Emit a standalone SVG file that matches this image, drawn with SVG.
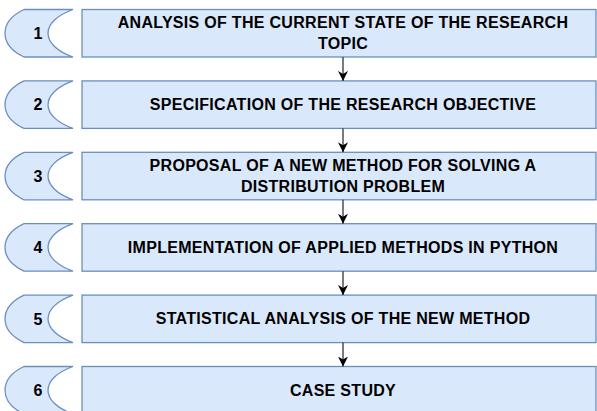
<svg xmlns="http://www.w3.org/2000/svg" width="597" height="411" viewBox="0 0 597 411">
  <style>
    .step { fill: #dae8fc; stroke: #6c8ebf; stroke-width: 1.3; }
    .num { font-family: "Liberation Sans", Arial, sans-serif; font-weight: bold; font-size: 16px; fill: #000; text-anchor: middle; dominant-baseline: central; }
    .lbl { font-family: "Liberation Sans", Arial, sans-serif; font-weight: bold; font-size: 16px; letter-spacing: 0.3px; fill: #000; text-anchor: middle; dominant-baseline: central; }
    .link { stroke: #333; stroke-width: 1.3; fill: none; marker-end: url(#arrow); }
  </style>
  <defs>
    <marker id="arrow" markerUnits="userSpaceOnUse" markerWidth="10" markerHeight="10" refX="10" refY="5" orient="auto">
      <path d="M0,0 L10,5 L0,10 L3,5 Z" fill="#000"/>
    </marker>
    <!-- tab shape: bowed left side, concave notch on the right -->
    <path id="tab" d="M24,0 H73 C39.7,12 39.7,35.5 73,47.5 H24 C-1.3,35.5 -1.3,12 24,0 Z"/>
  </defs>

  <rect width="597" height="411" fill="#fff"/>

  <g id="step1">
    <use href="#tab" class="step" transform="translate(0,9.5)"/>
    <text class="num" x="38" y="33.5">1</text>
    <rect class="step" x="82" y="9.5" width="514" height="47.5"/>
    <text class="lbl" x="343" y="22.5">ANALYSIS OF THE CURRENT STATE OF THE RESEARCH</text>
    <text class="lbl" x="343" y="43.5">TOPIC</text>
  </g>

  <g id="step2">
    <use href="#tab" class="step" transform="translate(0,80.9)"/>
    <text class="num" x="38" y="104.9">2</text>
    <rect class="step" x="82" y="80.9" width="514" height="47.5"/>
    <text class="lbl" x="343" y="104.6">SPECIFICATION OF THE RESEARCH OBJECTIVE</text>
  </g>

  <g id="step3">
    <use href="#tab" class="step" transform="translate(0,152.3)"/>
    <text class="num" x="38" y="176.3">3</text>
    <rect class="step" x="82" y="152.3" width="514" height="47.5"/>
    <text class="lbl" x="343" y="165.5">PROPOSAL OF A NEW METHOD FOR SOLVING A</text>
    <text class="lbl" x="343" y="186.5">DISTRIBUTION PROBLEM</text>
  </g>

  <g id="step4">
    <use href="#tab" class="step" transform="translate(0,223.7)"/>
    <text class="num" x="38" y="247.7">4</text>
    <rect class="step" x="82" y="223.7" width="514" height="47.5"/>
    <text class="lbl" x="343" y="247.4">IMPLEMENTATION OF APPLIED METHODS IN PYTHON</text>
  </g>

  <g id="step5">
    <use href="#tab" class="step" transform="translate(0,295.1)"/>
    <text class="num" x="38" y="319.1">5</text>
    <rect class="step" x="82" y="295.1" width="514" height="47.5"/>
    <text class="lbl" x="343" y="318.8">STATISTICAL ANALYSIS OF THE NEW METHOD</text>
  </g>

  <g id="step6">
    <use href="#tab" class="step" transform="translate(0,366.5)"/>
    <text class="num" x="38" y="390.5">6</text>
    <rect class="step" x="82" y="366.5" width="514" height="47.5"/>
    <text class="lbl" x="343" y="390">CASE STUDY</text>
  </g>

  <g id="connectors">
    <line class="link" x1="343" y1="57" x2="343" y2="80.9"/>
    <line class="link" x1="343" y1="128.4" x2="343" y2="152.3"/>
    <line class="link" x1="343" y1="199.8" x2="343" y2="223.7"/>
    <line class="link" x1="343" y1="271.2" x2="343" y2="295.1"/>
    <line class="link" x1="343" y1="342.6" x2="343" y2="366.5"/>
  </g>
</svg>
